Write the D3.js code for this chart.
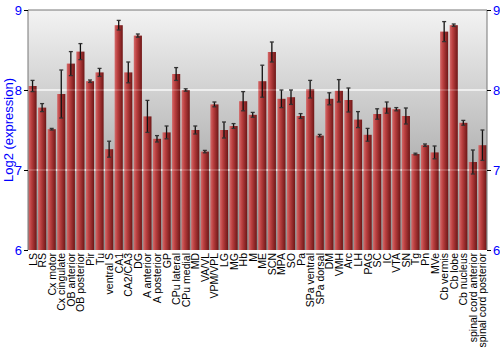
<!DOCTYPE html>
<html>
<head>
<meta charset="utf-8">
<script src="https://cdn.jsdelivr.net/npm/d3@7"></script>
<style>
  body { margin: 0; background: #fff; }
  svg { display: block; font-family: "Liberation Sans", Arial, sans-serif; }
</style>
</head>
<body>
<script>
// regions along the x axis
var regions = ["LS", "RS", "Cx motor", "Cx cingulate", "OB anterior", "OB posterior", "Pir", "Tu",
  "ventral S", "CA1", "CA2/CA3", "DG", "A anterior", "A posterior", "GP", "CPu lateral",
  "CPu medial", "MD", "VA/VL", "VPM/VPL", "LG", "MG", "Hb", "M", "ME", "SCN", "MPA", "SO",
  "Pa", "SPa ventral", "SPa dorsal", "DM", "VMH", "Arc", "LH", "PAG", "SC", "IC", "VTA", "SN",
  "Tg", "Pn", "MVe", "Cb vermis", "Cb lobe", "Cb nucleus", "spinal cord anterior", "spinal cord posterior"];

// mean log2 expression
var means = [8.05, 7.78, 7.51, 7.95, 8.33, 8.48, 8.11, 8.22,
  7.26, 8.81, 8.22, 8.68, 7.67, 7.39, 7.47, 8.20,
  8.00, 7.50, 7.23, 7.82, 7.50, 7.55, 7.86, 7.69, 8.11, 8.475, 7.89, 7.91,
  7.675, 8.01, 7.43, 7.89, 7.99, 7.875, 7.63, 7.44, 7.70, 7.78, 7.76, 7.675,
  7.20, 7.31, 7.22, 8.73, 8.81, 7.59, 7.10, 7.31];

// error (half-length of error bar)
var errors = [0.07, 0.05, 0.01, 0.3, 0.15, 0.1, 0.015, 0.05,
  0.1, 0.06, 0.13, 0.02, 0.2, 0.04, 0.08, 0.08,
  0.015, 0.05, 0.015, 0.03, 0.1, 0.03, 0.12, 0.03, 0.2, 0.125, 0.11, 0.09,
  0.03, 0.11, 0.015, 0.075, 0.14, 0.15, 0.1, 0.08, 0.065, 0.07, 0.02, 0.1,
  0.01, 0.015, 0.08, 0.125, 0.015, 0.03, 0.15, 0.19];

var yTicks = [6, 7, 8, 9];

var width = 500, height = 350;
var plotLeft = 28, plotRight = 487, plotTop = 10, plotBottom = 250;

var svg = d3.select("body").append("svg")
  .attr("width", width)
  .attr("height", height);

var defs = svg.append("defs");
var bg = defs.append("linearGradient").attr("id", "bg")
  .attr("x1", 0).attr("y1", 0).attr("x2", 0).attr("y2", 1);
bg.append("stop").attr("offset", "0%").attr("stop-color", "#f3f3f3");
bg.append("stop").attr("offset", "100%").attr("stop-color", "#8e8e8e");

var barGrad = defs.append("linearGradient").attr("id", "bar")
  .attr("x1", 0).attr("y1", 0).attr("x2", 1).attr("y2", 0);
barGrad.append("stop").attr("offset", "0%").attr("stop-color", "#d46a6a");
barGrad.append("stop").attr("offset", "35%").attr("stop-color", "#bb4040");
barGrad.append("stop").attr("offset", "100%").attr("stop-color", "#6e1616");

var x = d3.scaleBand()
  .domain(regions)
  .range([plotLeft, plotRight])
  .paddingInner(0.15)
  .paddingOuter(0.05);

var y = d3.scaleLinear()
  .domain([6, 9])
  .range([plotBottom, plotTop]);

// plot background
svg.append("rect")
  .attr("x", plotLeft).attr("y", plotTop)
  .attr("width", plotRight - plotLeft).attr("height", plotBottom - plotTop)
  .attr("fill", "url(#bg)");

// grid lines
svg.selectAll("line.grid")
  .data([7, 8])
  .enter().append("line")
  .attr("class", "grid")
  .attr("x1", plotLeft).attr("x2", plotRight)
  .attr("y1", function(d) { return y(d); })
  .attr("y2", function(d) { return y(d); })
  .attr("stroke", "#f4f4f4")
  .attr("stroke-width", 1.5);

// bars
svg.selectAll("rect.bar")
  .data(regions)
  .enter().append("rect")
  .attr("class", "bar")
  .attr("x", function(d) { return x(d); })
  .attr("width", x.bandwidth())
  .attr("y", function(d, i) { return y(means[i]); })
  .attr("height", function(d, i) { return y(6) - y(means[i]); })
  .attr("fill", "url(#bar)");

// grid line shows faintly over the bars
svg.selectAll("line.grid2")
  .data([7, 8])
  .enter().append("line")
  .attr("class", "grid2")
  .attr("x1", plotLeft).attr("x2", plotRight)
  .attr("y1", function(d) { return y(d); })
  .attr("y2", function(d) { return y(d); })
  .attr("stroke", "#ffffff")
  .attr("stroke-opacity", 0.35)
  .attr("stroke-width", 1);

// error bars
var err = svg.selectAll("g.err")
  .data(regions)
  .enter().append("g")
  .attr("class", "err")
  .attr("transform", function(d) { return "translate(" + (x(d) + x.bandwidth() / 2) + ",0)"; });

err.append("line")
  .attr("y1", function(d, i) { return y(means[i] + errors[i]); })
  .attr("y2", function(d, i) { return y(means[i] - errors[i]); })
  .attr("stroke", "#111")
  .attr("stroke-width", 1.3);

err.selectAll("line.cap")
  .data(function(d, i) { return [means[i] + errors[i], means[i] - errors[i]]; })
  .enter().append("line")
  .attr("class", "cap")
  .attr("x1", -2).attr("x2", 2)
  .attr("y1", function(v) { return y(v); })
  .attr("y2", function(v) { return y(v); })
  .attr("stroke", "#333")
  .attr("stroke-width", 1.3);

// frame
svg.append("line").attr("x1", plotLeft).attr("x2", plotRight).attr("y1", plotTop).attr("y2", plotTop)
  .attr("stroke", "#777");
svg.append("line").attr("x1", plotLeft).attr("x2", plotLeft).attr("y1", plotTop).attr("y2", plotBottom)
  .attr("stroke", "#777");
svg.append("line").attr("x1", plotRight).attr("x2", plotRight).attr("y1", plotTop).attr("y2", plotBottom)
  .attr("stroke", "#777");

// axes
var leftAxis = svg.append("g")
  .attr("transform", "translate(" + plotLeft + ",0)")
  .call(d3.axisLeft(y).tickValues(yTicks).tickFormat(d3.format("d")).tickSize(4).tickPadding(2));
var rightAxis = svg.append("g")
  .attr("transform", "translate(" + plotRight + ",0)")
  .call(d3.axisRight(y).tickValues(yTicks).tickFormat(d3.format("d")).tickSize(4).tickPadding(2));

[leftAxis, rightAxis].forEach(function(a) {
  a.select(".domain").remove();
  a.selectAll("line").attr("stroke", "#000");
  a.selectAll("text")
    .attr("fill", "#0000ff")
    .style("font-size", "13px")
    .style("font-family", "Liberation Sans, Arial, sans-serif");
});

// category labels
svg.selectAll("text.cat")
  .data(regions)
  .enter().append("text")
  .attr("class", "cat")
  .text(function(d) { return d; })
  .attr("transform", function(d) {
    return "translate(" + (x(d) + x.bandwidth() / 2 + 4) + "," + (plotBottom + 3) + ") rotate(-90)";
  })
  .attr("text-anchor", "end")
  .style("font-size", "10.5px")
  .attr("fill", "#000");

// y axis title
svg.append("text")
  .text("Log2 (expression)")
  .attr("transform", "translate(13," + ((plotTop + plotBottom) / 2) + ") rotate(-90)")
  .attr("text-anchor", "middle")
  .attr("fill", "#0000ff")
  .style("font-size", "13px");
</script>
</body>
</html>
